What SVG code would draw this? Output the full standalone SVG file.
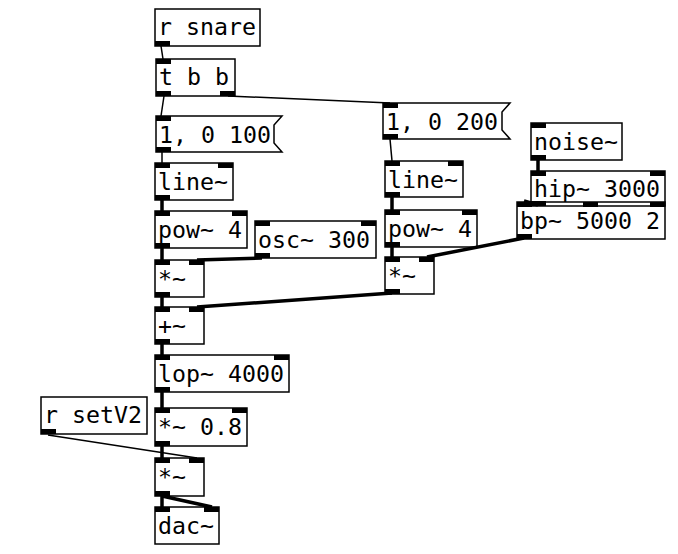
<svg xmlns="http://www.w3.org/2000/svg" width="678" height="554" viewBox="0 0 678 554">
<style>
.b{fill:none;stroke:#000;stroke-width:1.5}
.io{fill:#000}
.t{font-family:"DejaVu Sans Mono","Liberation Mono",monospace;font-size:23.25px;fill:#000}
.c{stroke:#000;stroke-width:1.5;fill:none}
.s{stroke:#000;stroke-width:3.5;fill:none}
</style>
<rect width="678" height="554" fill="#fff"/>
<g id="connectors">
<line class="c" x1="161" y1="46" x2="163" y2="59"/>
<line class="c" x1="164" y1="96" x2="161" y2="116"/>
<line class="c" x1="228" y1="96" x2="390" y2="103"/>
<line class="c" x1="162" y1="152" x2="162" y2="163"/>
<line class="s" x1="162" y1="200" x2="162" y2="211"/>
<line class="s" x1="162" y1="248" x2="162" y2="260"/>
<line class="s" x1="262" y1="258" x2="197" y2="260"/>
<line class="s" x1="162" y1="297" x2="162" y2="307"/>
<line class="s" x1="392" y1="293" x2="197" y2="307"/>
<line class="s" x1="162" y1="344" x2="162" y2="355"/>
<line class="s" x1="162" y1="392" x2="162" y2="408"/>
<line class="s" x1="162" y1="446" x2="162" y2="458"/>
<line class="c" x1="48" y1="435" x2="197" y2="458"/>
<line class="s" x1="162" y1="496" x2="162" y2="507"/>
<line class="s" x1="162" y1="496" x2="212" y2="507"/>
<line class="c" x1="390" y1="139" x2="392" y2="161"/>
<line class="s" x1="392" y1="197" x2="392" y2="210"/>
<line class="s" x1="392" y1="247" x2="392" y2="257"/>
<line class="s" x1="524" y1="238" x2="427" y2="257"/>
<line class="s" x1="538" y1="160" x2="538" y2="171"/>
<line class="s" x1="538" y1="205" x2="524" y2="201"/>
</g>
<g id="r_snare">
<rect class="b" x="155" y="9" width="105" height="37"/>
<rect class="io" x="155" y="41" width="15" height="5"/>
<text class="t" x="158" y="35">r snare</text>
</g>
<g id="t_b_b">
<rect class="b" x="156" y="59" width="79" height="37"/>
<rect class="io" x="156" y="59" width="15" height="5"/>
<rect class="io" x="156" y="91" width="15" height="5"/>
<rect class="io" x="220" y="91" width="15" height="5"/>
<text class="t" x="159" y="85">t b b</text>
</g>
<g id="msg_100">
<polygon class="b" points="156,116 282,116 274,125 274,143 282,152 156,152"/>
<rect class="io" x="156" y="116" width="15" height="5"/>
<rect class="io" x="156" y="147" width="15" height="5"/>
<text class="t" x="159" y="143">1, 0 100</text>
</g>
<g id="line_left">
<rect class="b" x="155" y="163" width="78" height="37"/>
<rect class="io" x="155" y="163" width="15" height="5"/>
<rect class="io" x="218" y="163" width="15" height="5"/>
<rect class="io" x="155" y="195" width="15" height="5"/>
<text class="t" x="158" y="190">line~</text>
</g>
<g id="pow_left">
<rect class="b" x="155" y="211" width="92" height="37"/>
<rect class="io" x="155" y="211" width="15" height="5"/>
<rect class="io" x="232" y="211" width="15" height="5"/>
<rect class="io" x="155" y="243" width="15" height="5"/>
<text class="t" x="158" y="238">pow~ 4</text>
</g>
<g id="osc_300">
<rect class="b" x="255" y="221" width="121" height="37"/>
<rect class="io" x="255" y="221" width="15" height="5"/>
<rect class="io" x="361" y="221" width="15" height="5"/>
<rect class="io" x="255" y="253" width="15" height="5"/>
<text class="t" x="258" y="248">osc~ 300</text>
</g>
<g id="mul_left">
<rect class="b" x="155" y="260" width="49" height="37"/>
<rect class="io" x="155" y="260" width="15" height="5"/>
<rect class="io" x="189" y="260" width="15" height="5"/>
<rect class="io" x="155" y="292" width="15" height="5"/>
<text class="t" x="158" y="287">*~</text>
</g>
<g id="add">
<rect class="b" x="155" y="307" width="49" height="37"/>
<rect class="io" x="155" y="307" width="15" height="5"/>
<rect class="io" x="189" y="307" width="15" height="5"/>
<rect class="io" x="155" y="339" width="15" height="5"/>
<text class="t" x="158" y="334">+~</text>
</g>
<g id="lop">
<rect class="b" x="155" y="355" width="134" height="37"/>
<rect class="io" x="155" y="355" width="15" height="5"/>
<rect class="io" x="274" y="355" width="15" height="5"/>
<rect class="io" x="155" y="387" width="15" height="5"/>
<text class="t" x="158" y="382">lop~ 4000</text>
</g>
<g id="r_setV2">
<rect class="b" x="41" y="397" width="106" height="37"/>
<rect class="io" x="41" y="429" width="15" height="5"/>
<text class="t" x="44" y="423">r setV2</text>
</g>
<g id="mul_08">
<rect class="b" x="155" y="408" width="92" height="38"/>
<rect class="io" x="155" y="408" width="15" height="5"/>
<rect class="io" x="232" y="408" width="15" height="5"/>
<rect class="io" x="155" y="441" width="15" height="5"/>
<text class="t" x="158" y="435">*~ 0.8</text>
</g>
<g id="mul_bottom">
<rect class="b" x="155" y="458" width="49" height="38"/>
<rect class="io" x="155" y="458" width="15" height="5"/>
<rect class="io" x="189" y="458" width="15" height="5"/>
<rect class="io" x="155" y="491" width="15" height="5"/>
<text class="t" x="158" y="485">*~</text>
</g>
<g id="dac">
<rect class="b" x="155" y="507" width="64" height="37"/>
<rect class="io" x="155" y="507" width="15" height="5"/>
<rect class="io" x="204" y="507" width="15" height="5"/>
<text class="t" x="158" y="534">dac~</text>
</g>
<g id="msg_200">
<polygon class="b" points="383,103 510,103 502,112 502,130 510,139 383,139"/>
<rect class="io" x="383" y="103" width="15" height="5"/>
<rect class="io" x="383" y="134" width="15" height="5"/>
<text class="t" x="386" y="130">1, 0 200</text>
</g>
<g id="line_right">
<rect class="b" x="385" y="161" width="78" height="36"/>
<rect class="io" x="385" y="161" width="15" height="5"/>
<rect class="io" x="448" y="161" width="15" height="5"/>
<rect class="io" x="385" y="192" width="15" height="5"/>
<text class="t" x="388" y="188">line~</text>
</g>
<g id="pow_right">
<rect class="b" x="385" y="210" width="92" height="37"/>
<rect class="io" x="385" y="210" width="15" height="5"/>
<rect class="io" x="462" y="210" width="15" height="5"/>
<rect class="io" x="385" y="242" width="15" height="5"/>
<text class="t" x="388" y="237">pow~ 4</text>
</g>
<g id="mul_right">
<rect class="b" x="385" y="257" width="49" height="37"/>
<rect class="io" x="385" y="257" width="15" height="5"/>
<rect class="io" x="419" y="257" width="15" height="5"/>
<rect class="io" x="385" y="289" width="15" height="5"/>
<text class="t" x="388" y="284">*~</text>
</g>
<g id="noise">
<rect class="b" x="531" y="123" width="91" height="37"/>
<rect class="io" x="531" y="123" width="15" height="5"/>
<rect class="io" x="531" y="155" width="15" height="5"/>
<text class="t" x="534" y="150">noise~</text>
</g>
<g id="hip">
<rect class="b" x="531" y="171" width="134" height="35"/>
<rect class="io" x="531" y="171" width="15" height="5"/>
<rect class="io" x="650" y="171" width="15" height="5"/>
<rect class="io" x="531" y="201" width="15" height="5"/>
<text class="t" x="534" y="197">hip~ 3000</text>
</g>
<g id="bp">
<rect class="b" x="517" y="202" width="148" height="37"/>
<rect class="io" x="517" y="202" width="15" height="5"/>
<rect class="io" x="583" y="202" width="15" height="5"/>
<rect class="io" x="650" y="202" width="15" height="5"/>
<rect class="io" x="517" y="234" width="15" height="5"/>
<text class="t" x="520" y="229">bp~ 5000 2</text>
</g>
</svg>
